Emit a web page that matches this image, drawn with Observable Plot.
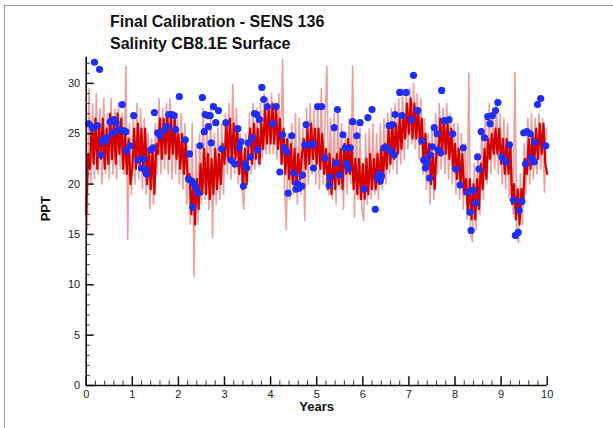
<!DOCTYPE html>
<html><head><meta charset="utf-8">
<script src="https://cdn.jsdelivr.net/npm/d3@7"></script>
<script src="https://cdn.jsdelivr.net/npm/@observablehq/plot@0.6"></script>
<style>
body{margin:0;background:#fff;}
#wrap{position:relative;width:613px;height:428px;overflow:hidden;font-family:"Liberation Sans",Arial,sans-serif;background:#fff;}
#chart{position:absolute;left:0;top:0;}
#frame{position:absolute;left:4px;top:5px;width:700px;height:500px;border-top:1.5px solid #9a9a9a;border-left:1.5px solid #9a9a9a;}
#title{position:absolute;left:110px;top:11px;font-weight:bold;font-size:16px;line-height:21.6px;color:#111;white-space:nowrap;}
</style></head>
<body><div id="wrap"><div id="chart"></div><div id="frame"></div><div id="title">Final Calibration - SENS 136<br>Salinity CB8.1E Surface</div></div>
<script>
// Model (dark red) series, sampled every 0.04 years from 0
const coreStart = 0, coreStep = 0.04;
const coreY = [
  17,23,21.5,26,22,26.5,21.5,26,22.5,26.5,21.5,25.5,22,27,22.5,26.5,22,27,23,26.5,21.5,25.5,21,24.5,20,
  21.5,25.5,21.5,26,22,25.5,21,25.5,20,23.5,19.5,23.5,19,24,23,26.5,22.5,26.5,23,27,22.5,26.5,23,26.5,22.5,
  25,21.5,25,21,24.5,20.5,21,17,20.5,16,20.5,17.5,22,19,23.5,19,23,18.5,22.5,19,23.5,19.5,23,20,24,
  22,26,22.5,26.5,22,26,22.5,25.5,21,24,19.5,23.5,20,24,25.5,22,26,22.5,25.5,22,26,23.5,27.5,24,27.5,
  24,28,24,27.5,23.5,26.5,22,25.5,21,24.5,20.5,24,20,23.5,19.5,23,20.5,23,24.5,21.5,25.5,22,26,22.5,25.5,
  22,25.5,21.5,25,21,23.5,19.5,23,19,22.5,19.5,23,20,23.5,19.5,24,21,24.5,21,23.5,19.5,22.5,19,22.5,18.5,
  22,18.5,22.5,19,23,19.5,22.5,19.5,23,20,23.5,20.5,24,21.5,25.5,22,26,22.5,26,23,26.5,23.5,27,24.5,28,
  25,28.5,24.5,28,24.5,27.5,24,26.5,22,25,21.5,24,20,23,19.5,23.5,23,26.5,23,26.5,23,26,22.5,25.5,21.5,
  24,20.5,23.5,20,23,19,20.5,17,20.5,16.5,20,16.5,20.5,17.5,22,19.5,23.5,20.5,24.5,22.5,25,23,25.5,23,25.5,
  22,24.5,21,24.5,21,24,18,20,16.5,19.5,16,19.5,18,22.5,21,24.5,21.5,25,22,25.5,22.5,26,23,26,22,
  21
];
// Light red high-frequency excursions, every 0.04 years from 0.02
const spikeStart = 0.02, spikeStep = 0.04;
const spikeY = [
  15.5,29.5,20,28,20.5,29,21,27.5,20,28.5,21,27,20.5,28.5,21,27.5,20.5,28,21.5,27,21,31.7,14.5,26,19,
  27,20,28,20.5,27.5,19.5,26.5,19,25,17.5,24.5,18,26,21,28.5,21,27.5,21.5,28,21,28.5,20.5,27,21,26.5,
  20,27,19.5,26,18,23,16,26,10.8,24,16,25,18,27.5,18.5,26,17.5,28,14.7,25,18,25.5,18.5,26,19,
  27,21,28,20.5,29.9,21,27.5,20,25,19.5,17.5,25,20,27,21,28,21.5,27.5,22,28,22.5,29,23,28.5,23,
  29,23,28,22.5,29,22,32.4,20,15.5,25,18.5,26,19,27,18,26.5,19,25.5,16.4,27.5,20,28,21,27.5,20,
  28,19.5,29.5,20,26,31.7,19,26.5,18.5,27,18,27.5,19.5,26,17.5,25,19,26.5,20,31.7,16.7,26,18.5,25.5,17.5,
  16.4,25,18,25.5,18.5,26,19,25,18.5,26,19.5,26.5,20,27,21,27.5,21.5,28,21,28.5,22,29.5,22.5,29,23.5,
  29.5,24,30,23.5,29,22.5,28.5,21,26.5,19.5,25,18,25.5,18.5,27,21,28,21.5,27.5,21,28,20.5,27,20,26,
  19,26,18.5,25,17.5,24,16.5,31,15,14.3,22,15.5,23,17,25.5,18.5,26.5,20,28,21,27.5,21.5,28.5,21,27,
  20,26.5,19.5,26,18.5,24,17,31.1,15,14.2,21,16,24,19,26.5,20,27,20.5,26.5,21,27,21.5,26.5,19.2,25.5
];
// Observations (blue dots)
const blueX = [0.05,0.14,0.18,0.24,0.29,0.32,0.36,0.38,0.41,0.44,0.52,0.57,0.60,0.65,0.70,0.78,0.79,0.86,0.87,0.95,
  1.03,1.13,1.20,1.24,1.28,1.31,1.40,1.45,1.48,1.55,1.60,1.70,1.75,1.79,1.86,1.91,1.94,
  2.02,2.15,2.22,2.24,2.29,2.31,2.34,2.38,2.43,2.47,2.52,2.56,2.58,2.64,2.65,2.69,2.71,2.76,2.81,2.87,2.94,
  3.03,3.14,3.23,3.29,3.32,3.36,3.41,3.45,3.48,3.52,3.56,3.61,3.65,3.70,3.72,3.76,3.81,3.85,3.93,
  4.05,4.12,4.20,4.26,4.30,4.35,4.38,4.46,4.50,4.55,4.57,4.62,4.68,4.69,4.74,4.77,4.86,4.92,4.93,
  5.02,5.11,5.18,5.27,5.29,5.38,5.42,5.45,5.50,5.57,5.62,5.65,5.69,5.73,5.78,5.87,5.94,
  6.03,6.11,6.20,6.27,6.32,6.36,6.38,6.41,6.46,6.53,6.57,6.62,6.64,6.68,6.70,6.80,6.85,6.94,
  7.06,7.10,7.19,7.28,7.32,7.36,7.39,7.45,7.46,7.51,7.55,7.61,7.64,7.69,7.71,7.77,7.87,7.95,
  8.02,8.11,8.18,8.28,8.33,8.35,8.40,8.45,8.49,8.52,8.57,8.64,8.71,8.76,8.81,8.88,8.93,
  9.02,9.10,9.18,9.27,9.31,9.37,9.39,9.45,9.49,9.53,9.56,9.63,9.66,9.72,9.73,9.79,9.86,9.97];
const blueY = [26.0,25.6,32.1,25.8,31.4,22.9,24.2,24.5,24.3,24.6,26.2,25.1,26.4,26.1,25.4,27.9,25.3,25.2,23.3,23.8,
  26.8,22.4,21.6,22.5,21.5,21.0,23.4,23.6,27.1,25.1,24.8,25.4,25.7,26.9,26.9,26.8,25.4,
  28.7,24.4,20.5,23.0,20.3,17.7,20.0,19.6,19.1,23.8,28.6,25.2,26.9,26.8,25.7,26.8,24.1,27.7,26.1,27.3,23.5,
  26.1,22.4,22.0,25.5,23.6,24.2,19.8,22.0,21.6,24.1,22.7,24.6,27.0,26.9,23.4,26.4,29.6,28.4,27.7,
  26.0,27.7,21.2,24.9,23.6,23.2,19.1,24.8,21.1,19.5,20.1,19.6,19.8,20.9,23.9,25.9,23.9,24.0,21.6,
  27.7,27.7,22.6,19.9,20.7,25.6,22.1,27.4,20.9,24.9,23.6,22.0,21.5,23.6,26.2,24.8,26.1,
  19.5,26.6,27.4,17.5,20.6,21.0,20.3,20.8,23.6,23.6,25.8,23.2,25.9,22.9,26.9,29.1,26.8,29.1,
  26.4,30.8,27.3,24.3,22.4,21.6,22.2,20.6,22.9,23.7,25.6,25.0,23.4,23.1,29.3,26.3,26.4,25.0,
  21.5,19.9,23.6,19.2,17.2,15.4,19.4,18.1,22.7,21.5,25.2,24.6,26.7,26.0,26.8,27.3,28.1,
  22.7,22.2,23.9,18.4,14.9,15.2,17.4,18.3,25.1,22.0,25.2,25.0,22.6,22.2,24.2,27.9,28.5,23.8];
const yMajor = [0,5,10,15,20,25,30];
const yMinor = [1,2,3,4,6,7,8,9,11,12,13,14,16,17,18,19,21,22,23,24,26,27,28,29,31,32];
const xMajor = [0,1,2,3,4,5,6,7,8,9,10];
const xMinor = [];
for (const a of [0,1,2,3,4,5,6,7,8,9]) for (const f of [0.2,0.4,0.6,0.8]) xMinor.push(a+f);

const W=613,H=428,mL=85.7,mR=66.3,mT=56.7,mB=43;
const plotW=W-mL-mR, plotH=H-mT-mB;
const core = coreY.map((y,i)=>({x: coreStart + i*coreStep, y}));
const spikes = spikeY.map((y,i)=>({x: spikeStart + i*spikeStep, y}));
const obs = blueX.map((x,i)=>({x, y: blueY[i]}));

const chart = Plot.plot({
  width:W, height:H, marginLeft:mL, marginRight:mR, marginTop:mT, marginBottom:mB,
  x:{domain:[0,10]}, y:{domain:[0,32.6]},
  style:{fontFamily:'"Liberation Sans",Arial,sans-serif', background:"transparent", color:"#222"},
  marks:[
    Plot.line(spikes,{x:"x",y:"y",stroke:"#e06060",strokeOpacity:0.6,strokeWidth:1.6}),
    Plot.line(core,{x:"x",y:"y",stroke:"#d40000",strokeWidth:2.2}),
    Plot.dot(obs,{x:"x",y:"y",r:3.6,fill:"#1f2eff"}),
    Plot.ruleX([0],{stroke:"#111",strokeWidth:1.6}),
    Plot.ruleY([0],{stroke:"#111",strokeWidth:1.6}),
    Plot.tickY(yMinor,{y:d=>d, insetRight: plotW-4, stroke:"#333"}),
    Plot.tickY(yMajor,{y:d=>d, insetRight: plotW-8, stroke:"#111", strokeWidth:1.5}),
    Plot.tickX(xMinor,{x:d=>d, insetTop: plotH-4.5, stroke:"#333"}),
    Plot.tickX(xMajor,{x:d=>d, insetTop: plotH-8.7, stroke:"#111", strokeWidth:1.5}),
    Plot.axisY(yMajor,{tickSize:0,tickPadding:6,fontSize:11,label:null}),
    Plot.axisX(xMajor,{tickSize:0,tickPadding:5,fontSize:11,label:null}),
    Plot.text(["PPT"],{frameAnchor:"left",dx:-40,rotate:-90,fontWeight:"bold",fontSize:13,fill:"#111"}),
    Plot.text(["Years"],{frameAnchor:"bottom",dy:25.5,fontWeight:"bold",fontSize:13,fill:"#111"})
  ]
});
document.getElementById("chart").appendChild(chart);
</script>
</body></html>
